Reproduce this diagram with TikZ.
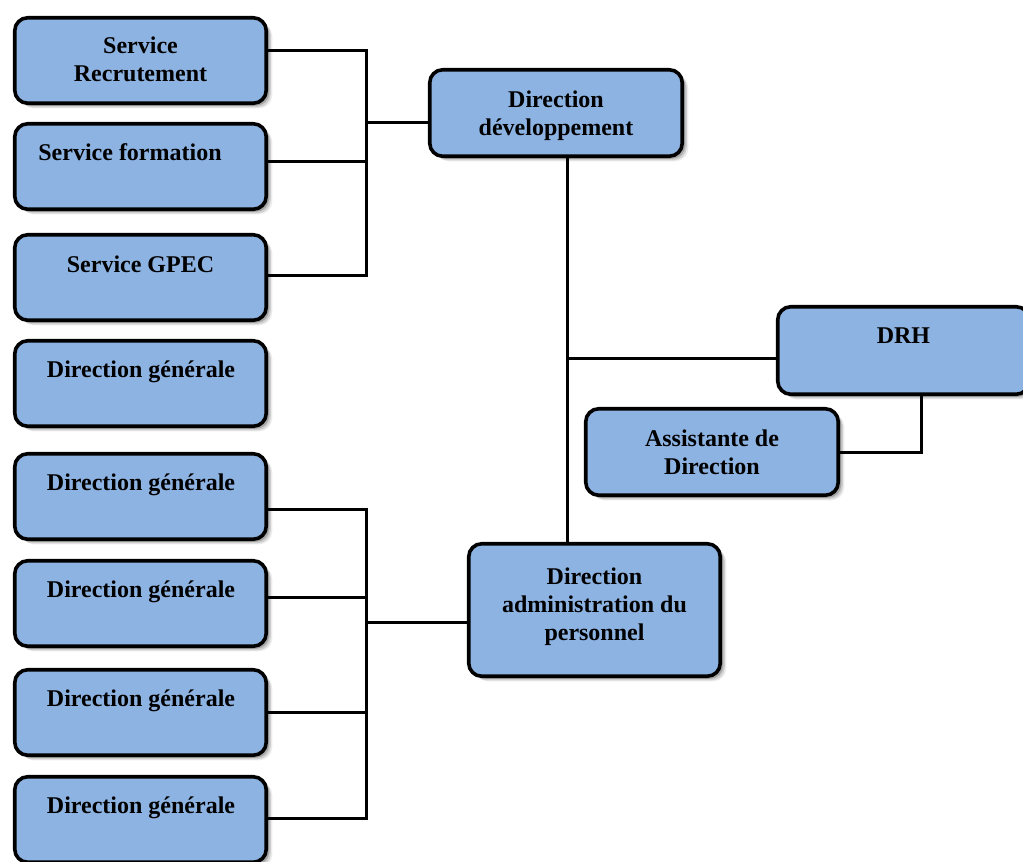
\documentclass[tikz,border=0pt]{standalone}
\usepackage{fontspec}
\setmainfont{Liberation Serif}
\usetikzlibrary{shadows,backgrounds}
\definecolor{boxblue}{RGB}{141,179,226}
\setlength{\tabcolsep}{0pt}
\newcommand{\twol}[2]{\begin{tabular}[t]{c}#1\\#2\end{tabular}}
\newcommand{\threel}[3]{\begin{tabular}[t]{c}#1\\#2\\#3\end{tabular}}
\begin{document}
\begin{tikzpicture}[x=1pt,y=-1pt,
  box/.style={draw=black, line width=3.6pt, rounded corners=13pt, fill=boxblue,
    minimum width=251.5pt, minimum height=85.5pt, inner sep=0pt,
    drop shadow={shadow xshift=6pt, shadow yshift=-5pt, fill=black, opacity=0.08},
    drop shadow={shadow xshift=4.5pt, shadow yshift=-4pt, fill=black, opacity=0.12},
    drop shadow={shadow xshift=3pt, shadow yshift=-2.5pt, fill=black, opacity=0.2}},
  txt/.style={font=\fontsize{24}{28}\selectfont\bfseries, anchor=base, inner sep=0pt},
  link/.style={line width=3pt, line cap=rect}]
\useasboundingbox (0,0) rectangle (1023,862);

% left column boxes
\node[box] (sr) at (140.5,60.5) {};
\node[box] (sf) at (140.5,166.5) {};
\node[box] (sg) at (140.5,277.5) {};
\node[box] (dg1) at (140.5,383.5) {};
\node[box] (dg2) at (140.5,496.5) {};
\node[box] (dg3) at (140.5,603.5) {};
\node[box] (dg4) at (140.5,712.5) {};
\node[box] (dg5) at (140.5,819.5) {};
% right boxes
\node[box, minimum width=252.5pt, minimum height=86.5pt] (dd) at (556,113) {};
\node[box, minimum height=87.5pt] (drh) at (903.5,350.5) {};
\node[box, minimum width=252.5pt, minimum height=86.5pt] (asst) at (712,452) {};
\node[box, minimum height=132.5pt] (da) at (594.5,610) {};

% texts
\node[txt] (tsr) at (140.5,53) {\twol{Service}{Recrutement}};
\node[txt] (tsf) at (130,160) {Service formation};
\node[txt] (tsg) at (140.5,272) {Service GPEC};
\node[txt] (tdg1) at (141,377) {Direction générale};
\node[txt] (tdg2) at (141,490) {Direction générale};
\node[txt] (tdg3) at (141,597) {Direction générale};
\node[txt] (tdg4) at (141,706) {Direction générale};
\node[txt] (tdg5) at (141,813) {Direction générale};
\node[txt] (tdd) at (556,107) {\twol{Direction}{développement}};
\node[txt] (tdrh) at (903.5,343) {DRH};
\node[txt] (tasst) at (712,446) {\twol{Assistante de}{Direction}};
\node[txt] (tda) at (594.5,584) {\threel{Direction}{administration du}{personnel}};

% bus coordinates
\coordinate (b1a) at (366,50);
\coordinate (b1b) at (366,161);
\coordinate (b1c) at (366,275);
\coordinate (b1m) at (366,122);
\coordinate (b2a) at (366,509);
\coordinate (b2b) at (366,597);
\coordinate (b2c) at (366,712);
\coordinate (b2d) at (366,818);
\coordinate (b2m) at (366,622);
\coordinate (v) at (567,358);
\coordinate (k) at (921,452);

\begin{scope}[on background layer]
  \draw[link] (sr.east |- b1a) -- (b1a) -- (b1c) -- (sg.east |- b1c);
  \draw[link] (sf.east |- b1b) -- (b1b);
  \draw[link] (b1m) -- (dd.west |- b1m);
  \draw[link] (dg2.east |- b2a) -- (b2a) -- (b2d) -- (dg5.east |- b2d);
  \draw[link] (dg3.east |- b2b) -- (b2b);
  \draw[link] (dg4.east |- b2c) -- (b2c);
  \draw[link] (b2m) -- (da.west |- b2m);
  \draw[link] (dd.south -| v) -- (da.north -| v);
  \draw[link] (v) -- (drh.west |- v);
  \draw[link] (drh.south -| k) -- (k) -- (asst.east |- k);
\end{scope}
\end{tikzpicture}
\end{document}
